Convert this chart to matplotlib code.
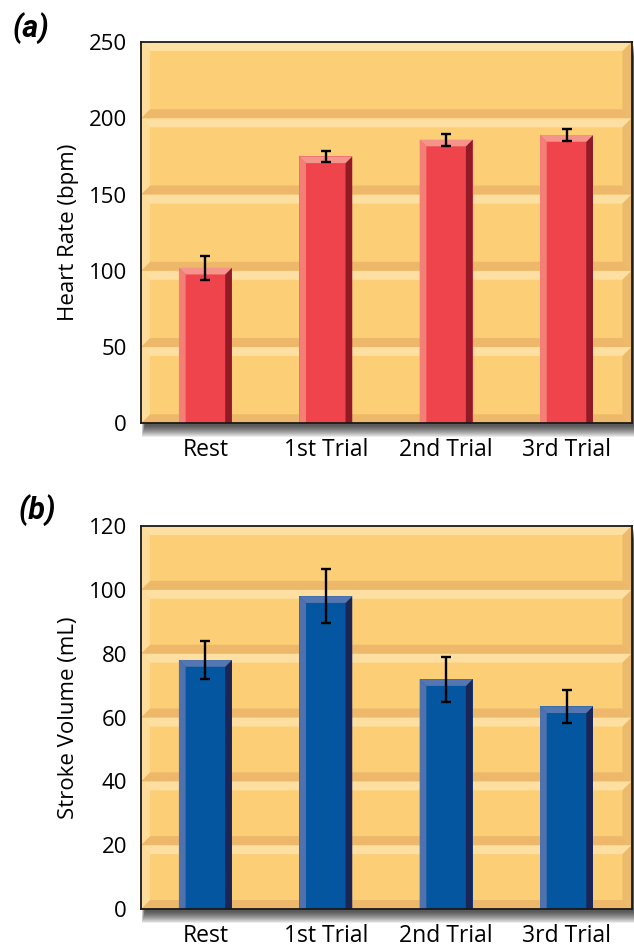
import numpy as np
import matplotlib
matplotlib.use("Agg")
import matplotlib.pyplot as plt
from matplotlib.patches import Polygon, Rectangle

# data
conditions = ["Rest", "1st Trial", "2nd Trial", "3rd Trial"]
heart_rate = [102, 175, 186, 189]
heart_rate_err = [8, 3.5, 4, 4]
stroke_volume = [78, 98, 72, 63.5]
stroke_volume_err = [6, 8.5, 7, 5.2]

hr_ticks = [0, 50, 100, 150, 200, 250]
sv_ticks = [0, 20, 40, 60, 80, 100, 120]

# colours
FILL = "#FCCF76"
DARK = "#EDB869"
LIGHT = "#FEDFA2"
LIGHT_SIDE = "#FEDC9C"
DARK_SIDE = "#ECBA6C"
RED = {"front": "#EF444B", "left": "#F47F77", "top": "#F5948A", "right": "#921A27"}
BLUE = {"front": "#03569F", "left": "#4F72AE", "top": "#5477B2", "right": "#1B2656"}

plt.rcParams['font.family'] = ['Open Sans', 'DejaVu Sans']

W, H = 634, 948
fig = plt.figure(figsize=(W / 100, H / 100), dpi=100)


def px_box(left, top, right, bottom):
    return [left / W, 1 - bottom / H, (right - left) / W, (bottom - top) / H]


def add_shadow(ax):
    """Soft grey drop shadow behind the axes box."""
    bb = ax.get_position()
    for k in range(12):
        grow = k / W
        growy = k / H
        fig.patches.append(Rectangle(
            (bb.x0 + 4 / W - grow * 0.3, bb.y0 - 3 / H - growy),
            bb.width + grow, bb.height,
            transform=fig.transFigure, facecolor="black", edgecolor="none",
            alpha=0.08, zorder=-1))


def draw_panel(ax, values, errs, ticks, ylabel, colors):
    x = np.arange(len(conditions))
    ax.set_xlim(-0.535, 3.54)
    ax.set_ylim(ticks[0], ticks[-1])
    x0, x1 = ax.get_xlim()
    bb = ax.get_window_extent()
    ux = (x1 - x0) / bb.width
    uy = (ticks[-1] - ticks[0]) / bb.height
    ax.set_facecolor(FILL)

    # bevelled wall tiles between gridlines
    dx, dy = 9 * ux, 9 * uy
    for lo, hi in zip(ticks[:-1], ticks[1:]):
        faces = [
            ([(x0, lo), (x1, lo), (x1 - dx, lo + dy), (x0 + dx, lo + dy)], DARK),
            ([(x0, hi), (x1, hi), (x1 - dx, hi - dy), (x0 + dx, hi - dy)], LIGHT),
            ([(x0, lo), (x0 + dx, lo + dy), (x0 + dx, hi - dy), (x0, hi)], LIGHT_SIDE),
            ([(x1, lo), (x1 - dx, lo + dy), (x1 - dx, hi - dy), (x1, hi)], DARK_SIDE),
        ]
        for pts, c in faces:
            ax.add_patch(Polygon(pts, closed=True, facecolor=c, edgecolor="none", zorder=1))

    # 3d bars
    w = 0.44
    ax.bar(x, values, width=w, color=colors["front"], zorder=2)
    bx, by = 6.7 * ux, 6.7 * uy
    for xi, v in zip(x, values):
        l, r = xi - w / 2, xi + w / 2
        faces = [
            ([(l, 0), (l + bx, 0), (l + bx, v - by), (l, v)], colors["left"]),
            ([(r, 0), (r - bx, 0), (r - bx, v - by), (r, v)], colors["right"]),
            ([(l, v), (r, v), (r - bx, v - by), (l + bx, v - by)], colors["top"]),
        ]
        for pts, c in faces:
            ax.add_patch(Polygon(pts, closed=True, facecolor=c, edgecolor="none", zorder=3))

    ax.errorbar(x, values, yerr=errs, fmt="none", ecolor="black",
                elinewidth=1.7, capsize=3.8, capthick=1.7, zorder=4)

    ax.set_yticks(ticks)
    ax.set_xticks(x, conditions)
    ax.tick_params(axis="y", length=0, pad=10, labelsize=16)
    ax.tick_params(axis="x", length=0, pad=10.5, labelsize=16.5)
    ax.set_ylabel(ylabel, fontsize=16, labelpad=7)
    for s in ax.spines.values():
        s.set_color("#1a1a1a")
        s.set_linewidth(1.3)
        s.set_zorder(5)
    add_shadow(ax)


ax_a = fig.add_axes(px_box(141, 42, 631.5, 423.3))
ax_b = fig.add_axes(px_box(141, 526, 631.5, 909))

draw_panel(ax_a, heart_rate, heart_rate_err, hr_ticks, "Heart Rate (bpm)", RED)
draw_panel(ax_b, stroke_volume, stroke_volume_err, sv_ticks, "Stroke Volume (mL)", BLUE)

fig.text(13 / W, 1 - 28 / H, "(a)", fontsize=22, fontweight="bold", fontstyle="italic",
         family=["Roboto", "DejaVu Sans"], va="center", ha="left")
fig.text(19 / W, 1 - 510 / H, "(b)", fontsize=22, fontweight="bold", fontstyle="italic",
         family=["Roboto", "DejaVu Sans"], va="center", ha="left")

fig.savefig("out.png", dpi=100, facecolor="white")
